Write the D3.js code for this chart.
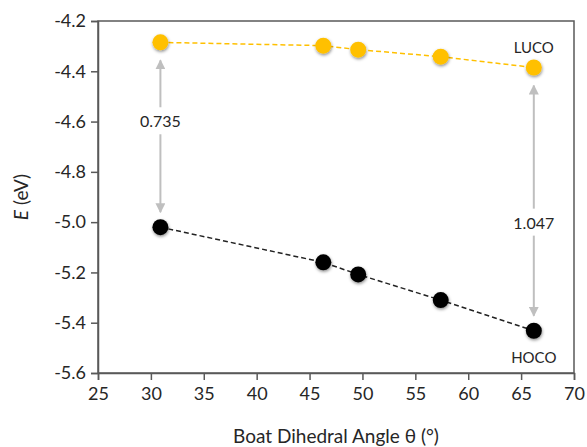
<!DOCTYPE html>
<html><head><meta charset="utf-8">
<script src="https://cdn.jsdelivr.net/npm/d3@7"></script>
<style>body{margin:0;background:#fff}svg{display:block}</style>
</head><body>
<script>
const angles = [30.9, 46.3, 49.6, 57.4, 66.2];
const luco = [-4.285, -4.298, -4.314, -4.342, -4.385];
const hoco = [-5.020, -5.160, -5.208, -5.310, -5.432];
const xTicks = [25, 30, 35, 40, 45, 50, 55, 60, 65, 70];
const yTicks = [-4.2, -4.4, -4.6, -4.8, -5.0, -5.2, -5.4, -5.6];
const gapLabels = ["0.735", "1.047"];
const seriesLabels = ["LUCO", "HOCO"];

const W = 587, H = 447;
const m = {l: 98, r: 13, t: 21, b: 74};
const svg = d3.select("body").append("svg").attr("width", W).attr("height", H);
const font = "Lato, 'Open Sans', sans-serif";
const axisCol = "#595959";
const txtCol = "#262626";

const x = d3.scaleLinear().domain([25, 70]).range([m.l, W - m.r]);
const y = d3.scaleLinear().domain([-5.6, -4.2]).range([H - m.b, m.t]);

const defs = svg.append("defs");
const f = defs.append("filter").attr("id", "sh").attr("x", "-50%").attr("y", "-50%").attr("width", "200%").attr("height", "200%");
f.append("feDropShadow").attr("dx", 0.5).attr("dy", 1.5).attr("stdDeviation", 1.5).attr("flood-color", "#000").attr("flood-opacity", 0.45);
const mk = defs.append("marker").attr("id", "ah").attr("viewBox", "0 0 10 10").attr("refX", 9).attr("refY", 5)
  .attr("markerWidth", 5).attr("markerHeight", 5).attr("orient", "auto-start-reverse").attr("markerUnits", "strokeWidth");
mk.append("path").attr("d", "M0,0 L10,5 L0,10 z").attr("fill", "#BFBFBF");

// frame
svg.append("rect").attr("x", m.l).attr("y", m.t).attr("width", W - m.l - m.r).attr("height", H - m.t - m.b)
  .attr("fill", "none").attr("stroke", axisCol).attr("stroke-width", 1.5);

const fmtY = d => d.toFixed(1);
const xa = svg.append("g").attr("transform", `translate(0,${H - m.b})`)
  .call(d3.axisBottom(x).tickValues(xTicks).tickSize(7).tickPadding(7).tickFormat(d => String(d)));
const ya = svg.append("g").attr("transform", `translate(${m.l},0)`)
  .call(d3.axisLeft(y).tickValues(yTicks).tickSize(7).tickPadding(5).tickFormat(fmtY));
[xa, ya].forEach(a => {
  a.select(".domain").attr("stroke", axisCol).attr("stroke-width", 1.5);
  a.selectAll(".tick line").attr("stroke", axisCol).attr("stroke-width", 1.5);
  a.selectAll("text").attr("font-family", font).attr("font-size", 18).attr("fill", txtCol);
});

svg.append("text").attr("x", (m.l + W - m.r) / 2).attr("y", 443).attr("text-anchor", "middle")
  .attr("font-family", font).attr("font-size", 19).attr("fill", txtCol).text("Boat Dihedral Angle θ (°)");
const yt = svg.append("text").attr("transform", `translate(28,${(m.t + H - m.b) / 2}) rotate(-90)`)
  .attr("text-anchor", "middle").attr("font-family", font).attr("font-size", 19).attr("fill", txtCol);
yt.append("tspan").attr("font-style", "italic").text("E");
yt.append("tspan").text(" (eV)");

// trend lines
const line = d3.line().x(d => x(d[0])).y(d => y(d[1]));
svg.append("path").datum(angles.map((a, i) => [a, luco[i]])).attr("d", line)
  .attr("fill", "none").attr("stroke", "#FFC000").attr("stroke-width", 1.5).attr("stroke-dasharray", "5,3");
svg.append("path").datum(angles.map((a, i) => [a, hoco[i]])).attr("d", line)
  .attr("fill", "none").attr("stroke", "#222").attr("stroke-width", 1.5).attr("stroke-dasharray", "5,3");

// gap arrows
const idx = [0, angles.length - 1];
idx.forEach((k, j) => {
  const cx = x(angles[k]);
  const yTop = y(luco[k]) + 18, yBot = y(hoco[k]) - 15;
  const ty = (yTop + yBot) / 2 + (j === 0 ? -15 : 22);
  svg.append("line").attr("x1", cx).attr("x2", cx).attr("y1", ty - 14).attr("y2", yTop)
    .attr("stroke", "#BFBFBF").attr("stroke-width", 2).attr("marker-end", "url(#ah)");
  svg.append("line").attr("x1", cx).attr("x2", cx).attr("y1", ty + 13).attr("y2", yBot)
    .attr("stroke", "#BFBFBF").attr("stroke-width", 2).attr("marker-end", "url(#ah)");
  svg.append("text").attr("x", cx).attr("y", ty + 6).attr("text-anchor", "middle")
    .attr("font-family", font).attr("font-size", 16).attr("fill", txtCol).text(gapLabels[j]);
});

// points
svg.append("g").selectAll("circle").data(angles).join("circle")
  .attr("cx", d => x(d)).attr("cy", (d, i) => y(luco[i])).attr("r", 8)
  .attr("fill", "#FFC000").attr("filter", "url(#sh)");
svg.append("g").selectAll("circle").data(angles).join("circle")
  .attr("cx", d => x(d)).attr("cy", (d, i) => y(hoco[i])).attr("r", 8)
  .attr("fill", "#000").attr("filter", "url(#sh)");

const last = angles.length - 1;
svg.append("text").attr("x", x(angles[last])).attr("y", y(luco[last]) - 15).attr("text-anchor", "middle")
  .attr("font-family", font).attr("font-size", 15).attr("fill", txtCol).text(seriesLabels[0]);
svg.append("text").attr("x", x(angles[last])).attr("y", y(hoco[last]) + 32).attr("text-anchor", "middle")
  .attr("font-family", font).attr("font-size", 15).attr("fill", txtCol).text(seriesLabels[1]);
</script>
</body></html>
